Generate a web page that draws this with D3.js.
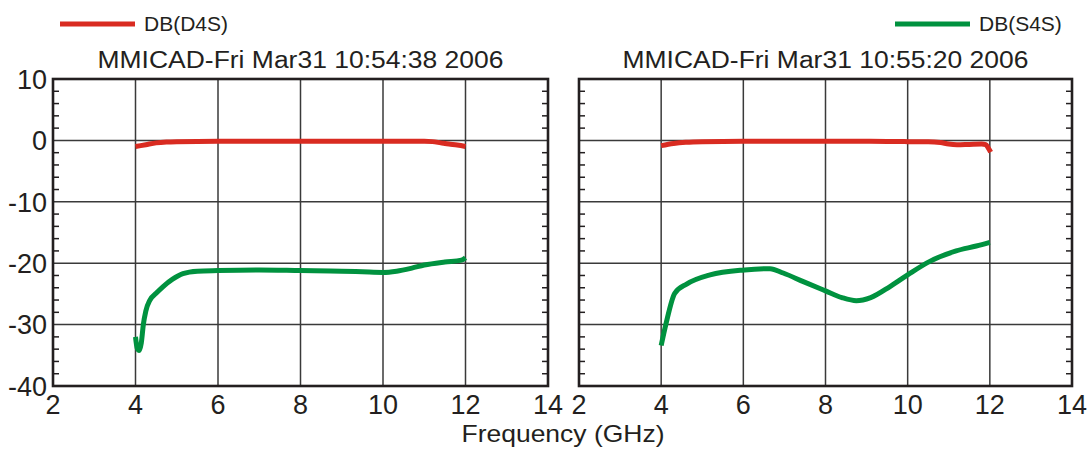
<!DOCTYPE html>
<html>
<head>
<meta charset="utf-8">
<script src="https://cdn.jsdelivr.net/npm/d3@7"></script>
<style>
  html, body { margin: 0; padding: 0; background: #fff; }
  svg { display: block; }
  text { font-family: "Liberation Sans", Arial, sans-serif; fill: #231f20; }
</style>
</head>
<body>
<svg id="chart" width="1091" height="449"></svg>
<script>
// ---- data ----
const xTicks = [2, 4, 6, 8, 10, 12, 14];
const yTicks = [10, 0, -10, -20, -30, -40];
const panelTitles = ["MMICAD-Fri Mar31 10:54:38 2006", "MMICAD-Fri Mar31 10:55:20 2006"];
const seriesNames = ["DB(D4S)", "DB(S4S)"];

// left sweep
const freqD4SLeft = [4.0, 4.25, 4.5, 4.75, 5.0, 6, 7, 8, 9, 10, 11, 11.2, 11.4, 11.6, 11.8, 12.0];
const dbD4SLeft   = [-1.0, -0.7, -0.4, -0.25, -0.2, -0.15, -0.15, -0.15, -0.15, -0.15, -0.15, -0.2, -0.4, -0.6, -0.75, -1.0];
const freqS4SLeft = [4.0, 4.04, 4.09, 4.14, 4.19, 4.25, 4.35, 4.5, 4.67, 4.9, 5.15, 5.5, 6, 7, 8, 9, 9.5, 10, 10.33, 10.7, 11, 11.5, 11.9, 12.0];
const dbS4SLeft   = [-32.0, -33.8, -34.2, -33.0, -30.0, -27.8, -26.0, -24.9, -23.8, -22.6, -21.7, -21.3, -21.2, -21.1, -21.2, -21.3, -21.4, -21.5, -21.3, -20.8, -20.3, -19.8, -19.5, -19.1];

// right sweep
const freqD4SRight = [4.0, 4.3, 4.6, 5.0, 6, 7, 8, 9, 10, 10.5, 10.8, 11.0, 11.2, 11.5, 11.8, 11.9, 11.96, 12.02];
const dbD4SRight   = [-0.85, -0.5, -0.3, -0.2, -0.15, -0.15, -0.15, -0.15, -0.2, -0.2, -0.35, -0.6, -0.7, -0.65, -0.6, -0.7, -1.2, -1.9];
const freqS4SRight = [4.0, 4.12, 4.33, 4.62, 5.19, 6.03, 6.65, 6.97, 7.46, 8.0, 8.4, 8.75, 9.1, 9.57, 10.0, 10.54, 11.18, 11.67, 12.0];
const dbS4SRight   = [-33.4, -29.8, -24.9, -23.4, -21.9, -21.1, -20.9, -21.6, -23.0, -24.5, -25.6, -26.1, -25.6, -23.8, -21.9, -19.7, -18.0, -17.2, -16.6];

const colors = ["#d92b21", "#00923f"];

// ---- layout ----
const svg = d3.select("#chart");
const panels = [
  { x0: 53, x1: 548, title: panelTitles[0],
    series: [
      { f: freqD4SLeft, v: dbD4SLeft, c: colors[0] },
      { f: freqS4SLeft, v: dbS4SLeft, c: colors[1] }
    ] },
  { x0: 579, x1: 1072, title: panelTitles[1],
    series: [
      { f: freqD4SRight, v: dbD4SRight, c: colors[0] },
      { f: freqS4SRight, v: dbS4SRight, c: colors[1] }
    ] }
];
const yTop = 79, yBot = 386;
const y = d3.scaleLinear().domain([-40, 10]).range([yBot, yTop]);
const minorY = d3.range(-38, 10, 2).filter(d => d % 10 !== 0);

panels.forEach(p => {
  const x = d3.scaleLinear().domain([2, 14]).range([p.x0, p.x1]);
  const g = svg.append("g");

  // grid
  g.selectAll(".vgrid").data(xTicks.slice(1, -1)).join("line")
    .attr("x1", d => x(d)).attr("x2", d => x(d))
    .attr("y1", yTop).attr("y2", yBot)
    .attr("stroke", "#3a3a3a").attr("stroke-width", 1.5);
  g.selectAll(".hgrid").data(yTicks.slice(1, -1)).join("line")
    .attr("x1", p.x0).attr("x2", p.x1)
    .attr("y1", d => y(d)).attr("y2", d => y(d))
    .attr("stroke", "#3a3a3a").attr("stroke-width", 1.5);

  // minor ticks on both vertical edges, pointing inward
  g.selectAll(".mtl").data(minorY).join("line")
    .attr("x1", p.x0).attr("x2", p.x0 + 6)
    .attr("y1", d => y(d)).attr("y2", d => y(d))
    .attr("stroke", "#231f20").attr("stroke-width", 1.5);
  g.selectAll(".mtr").data(minorY).join("line")
    .attr("x1", p.x1 - 6).attr("x2", p.x1)
    .attr("y1", d => y(d)).attr("y2", d => y(d))
    .attr("stroke", "#231f20").attr("stroke-width", 1.5);

  // curves
  const line = d3.line()
    .x(d => x(d[0])).y(d => y(d[1]))
    .curve(d3.curveMonotoneX);
  p.series.forEach(s => {
    g.append("path")
      .datum(d3.zip(s.f, s.v))
      .attr("d", line)
      .attr("fill", "none")
      .attr("stroke", s.c)
      .attr("stroke-width", 5)
      .attr("stroke-linejoin", "round");
  });

  // frame
  g.append("rect")
    .attr("x", p.x0).attr("y", yTop)
    .attr("width", p.x1 - p.x0).attr("height", yBot - yTop)
    .attr("fill", "none").attr("stroke", "#231f20").attr("stroke-width", 2.6);

  // x tick labels
  g.selectAll(".xl").data(xTicks).join("text")
    .attr("x", d => x(d)).attr("y", 414)
    .attr("text-anchor", "middle")
    .attr("font-size", 27)
    .text(d => d);

  // title
  g.append("text")
    .attr("x", (p.x0 + p.x1) / 2).attr("y", 68)
    .attr("text-anchor", "middle")
    .attr("font-size", 23.5)
    .attr("textLength", 406).attr("lengthAdjust", "spacingAndGlyphs")
    .text(p.title);
});

// y tick labels (left panel only)
svg.selectAll(".yl").data(yTicks).join("text")
  .attr("x", 47).attr("y", d => y(d))
  .attr("dy", "0.36em")
  .attr("text-anchor", "end")
  .attr("font-size", 27)
  .text(d => d);

// axis title
svg.append("text")
  .attr("x", 563).attr("y", 442)
  .attr("text-anchor", "middle")
  .attr("font-size", 24)
  .attr("textLength", 203).attr("lengthAdjust", "spacingAndGlyphs")
  .text("Frequency (GHz)");

// legends
const legend = [
  { x: 60, name: seriesNames[0], c: colors[0] },
  { x: 895, name: seriesNames[1], c: colors[1] }
];
legend.forEach(l => {
  svg.append("line")
    .attr("x1", l.x).attr("x2", l.x + 75)
    .attr("y1", 24).attr("y2", 24)
    .attr("stroke", l.c).attr("stroke-width", 5);
  svg.append("text")
    .attr("x", l.x + 84).attr("y", 31)
    .attr("font-size", 21)
    .text(l.name);
});
</script>
</body>
</html>
